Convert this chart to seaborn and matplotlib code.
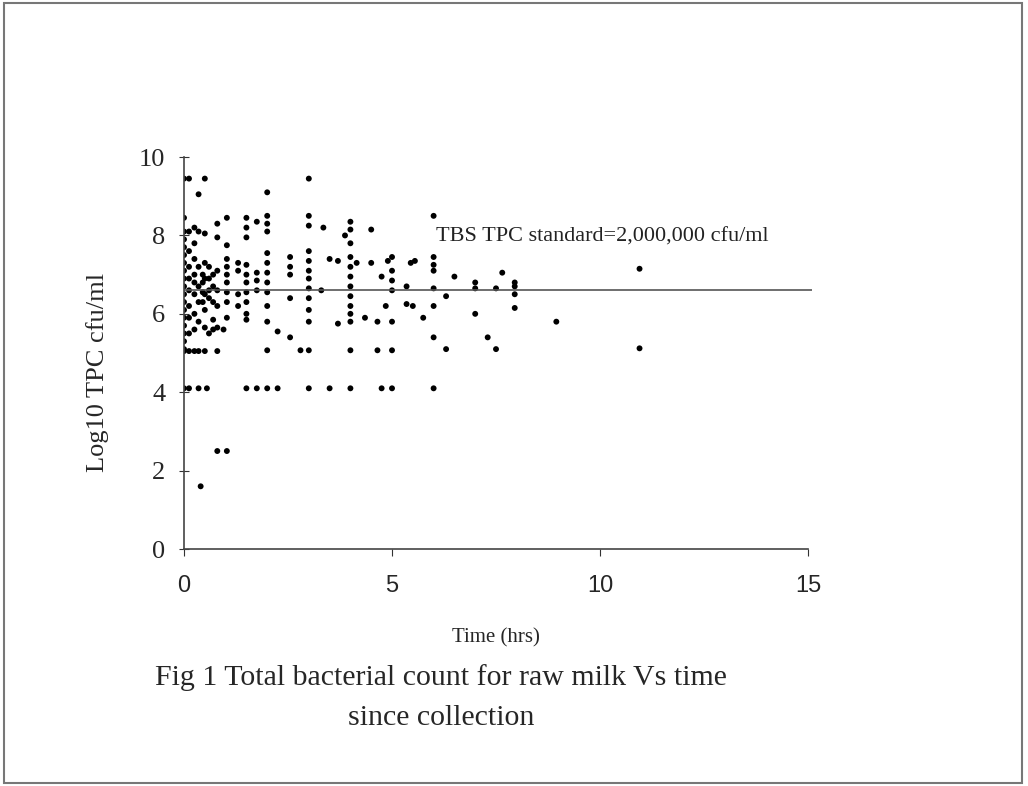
import matplotlib.pyplot as plt
import matplotlib.patches as patches
import seaborn as sns
import pandas as pd

# time since collection (hrs) and the log10 TPC readings at that time
time_hrs = [0.0, 0.12, 0.25, 0.35, 0.4, 0.45, 0.5, 0.55, 0.6, 0.7, 0.8, 0.95,
            1.03, 1.3, 1.5, 1.75, 2.0, 2.25, 2.55, 2.8, 3.0, 3.3, 3.35, 3.5,
            3.7, 3.87, 4.0, 4.15, 4.35, 4.5, 4.65, 4.75, 4.85, 4.9, 5.0, 5.35,
            5.45, 5.5, 5.55, 5.75, 6.0, 6.3, 6.5, 7.0, 7.3, 7.5, 7.65, 7.95,
            8.95, 10.95]
log_tpc = [
    [9.45, 8.45, 8.1, 7.9, 7.7, 7.5, 7.3, 7.1, 6.9, 6.7, 6.5, 6.3, 6.1, 5.9, 5.7, 5.5, 5.3, 5.1, 5.05, 4.1],
    [9.45, 8.1, 7.6, 7.2, 6.9, 6.6, 6.2, 5.9, 5.5, 5.05, 4.1],
    [8.2, 7.8, 7.4, 7.0, 6.8, 6.5, 6.0, 5.6, 5.05],
    [9.05, 8.1, 7.2, 6.7, 6.3, 5.8, 5.05, 4.1],
    [1.6],
    [7.0, 6.8, 6.55, 6.3],
    [9.45, 8.05, 7.3, 6.9, 6.5, 6.1, 5.65, 5.05],
    [4.1],
    [7.2, 6.9, 6.6, 6.4, 5.5],
    [7.0, 6.7, 6.3, 5.85, 5.6],
    [8.3, 7.95, 7.1, 6.6, 6.2, 5.65, 5.05, 2.5],
    [5.6],
    [8.45, 7.75, 7.4, 7.2, 7.0, 6.8, 6.55, 6.3, 5.9, 2.5],
    [7.3, 7.1, 6.5, 6.2],
    [8.45, 8.2, 7.95, 7.25, 7.0, 6.8, 6.55, 6.3, 6.0, 5.85, 4.1],
    [8.35, 7.05, 6.85, 6.6, 4.1],
    [9.1, 8.5, 8.3, 8.1, 7.55, 7.3, 7.05, 6.8, 6.55, 6.2, 5.8, 5.07, 4.1],
    [5.55, 4.1],
    [7.45, 7.2, 7.0, 6.4, 5.4],
    [5.07],
    [9.45, 8.5, 8.25, 7.6, 7.35, 7.1, 6.9, 6.65, 6.4, 6.1, 5.8, 5.07, 4.1],
    [6.6],
    [8.2],
    [7.4, 4.1],
    [7.35, 5.75],
    [8.0],
    [8.35, 8.15, 7.8, 7.45, 7.2, 6.95, 6.7, 6.45, 6.2, 6.0, 5.8, 5.07, 4.1],
    [7.3],
    [5.9],
    [8.15, 7.3],
    [5.8, 5.07],
    [6.95, 4.1],
    [6.2],
    [7.35],
    [7.45, 7.1, 6.85, 6.6, 5.8, 5.07, 4.1],
    [6.7, 6.25],
    [7.3],
    [6.2],
    [7.35],
    [5.9],
    [8.5, 7.45, 7.25, 7.1, 6.65, 6.2, 5.4, 4.1],
    [6.45, 5.1],
    [6.95],
    [6.8, 6.65, 6.0],
    [5.4],
    [6.65, 5.1],
    [7.05],
    [6.8, 6.7, 6.5, 6.15],
    [5.8],
    [7.15, 5.12],
]
standard_level = 6.6
standard_label = "TBS TPC standard=2,000,000 cfu/ml"
x_ticks = [0, 5, 10, 15]
y_ticks = [0, 2, 4, 6, 8, 10]

rows = [(t, v) for t, vals in zip(time_hrs, log_tpc) for v in vals]
df = pd.DataFrame(rows, columns=["time", "log_tpc"])

sns.set_style("ticks")
plt.rcParams['font.family'] = ['Liberation Serif', 'DejaVu Serif']

fig = plt.figure(figsize=(10.28, 7.86), dpi=100)
ax = fig.add_axes([0.179, 0.3015, 0.607, 0.4987])

sns.scatterplot(data=df, x="time", y="log_tpc", ax=ax, color="black",
                s=18, edgecolor="none", legend=False)

ax.hlines(standard_level, 0, 15.1, color="#555555", linewidth=1.2, clip_on=False)
ax.text(6.05, 7.95, standard_label, fontsize=16, va="center", ha="left", color="#222222")

ax.set_xlim(0, 15)
ax.set_ylim(0, 10)
ax.set_xticks(x_ticks)
ax.set_yticks(y_ticks)
ax.set_xticklabels([str(v) for v in x_ticks], family="Liberation Sans", fontsize=17)
ax.set_yticklabels([str(v) for v in y_ticks], fontsize=19)
ax.tick_params(axis="x", direction="out", length=5, pad=14, color="#333333")
ax.tick_params(axis="y", direction="inout", length=7, pad=10, color="#333333")
sns.despine(ax=ax)
for s in ["left", "bottom"]:
    ax.spines[s].set_color("#444444")
    ax.spines[s].set_linewidth(1.2)

ax.set_xlabel("Time (hrs)", fontsize=15, labelpad=22)
ax.set_ylabel("Log10 TPC cfu/ml", fontsize=19)
ax.yaxis.set_label_coords(-0.12, 0.45)

fig.text(0.429, 0.138, "Fig 1 Total bacterial count for raw milk Vs time",
         fontsize=21.5, ha="center", va="center")
fig.text(0.429, 0.086, "since collection", fontsize=21.5, ha="center", va="center")

fig.patches.append(patches.Rectangle((0.004, 0.004), 0.99, 0.992, transform=fig.transFigure,
                                     fill=False, edgecolor="#777777", linewidth=1.5))

fig.savefig("out.png", dpi=100, facecolor="white")
